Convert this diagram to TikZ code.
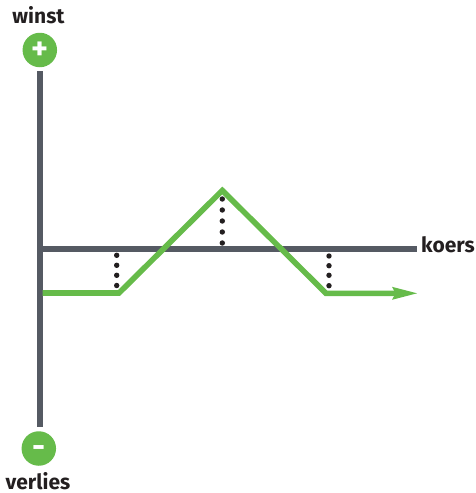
\documentclass[tikz,border=0pt]{standalone}
\usepackage{fontspec}
\setmainfont{Fira Sans}
\usetikzlibrary{arrows.meta}
\definecolor{axisgray}{HTML}{555A63}
\definecolor{payoff}{HTML}{66BB4A}
\definecolor{ink}{HTML}{231F20}
\tikzset{
  axisline/.style={draw=axisgray,line width=6pt},
  payoffline/.style={draw=payoff,line width=5.6pt,miter limit=10},
  badge/.style={circle,fill=payoff,minimum size=34.5pt,inner sep=0pt,text=white,font=\fontsize{32}{32}\selectfont\bfseries,text depth=0pt},
  lbl/.style={text=ink,font=\fontsize{21}{23}\selectfont\bfseries,inner sep=0pt},
  dotmark/.style={circle,fill=ink,minimum size=5.4pt,inner sep=0pt}
}
\begin{document}
\begin{tikzpicture}[x=1pt,y=-1pt]
\useasboundingbox (0,0) rectangle (476,493);
\node[lbl,anchor=base] (winst) at (38.5,23) {winst};
\node[lbl,anchor=base] (verlies) at (38,489.5) {verlies};
\node[lbl,anchor=base west] (koers) at (421,252) {koers};
\node[badge,text height=19pt] (plus) at (39.8,50) {+};
\node[badge,text height=17pt] (minus) at (38.8,448.5) {-};
\coordinate (axtop) at (39.8,71);
\coordinate (axbot) at (39.8,427);
\coordinate (axorigin) at (39.8,249.3);
\coordinate (axend) at (417,249.3);
\draw[axisline] (axtop) -- (axbot);
\draw[axisline] (axorigin) -- (axend);
\foreach \y in {255.3,265.3,275.3,285.5} \node[dotmark] at (116.7,\y) {};
\foreach \y in {199,210,221,232,243} \node[dotmark] at (222.3,\y) {};
\foreach \y in {256,265.7,275.3,285.7} \node[dotmark] at (329,\y) {};
\coordinate (p0) at (42.6,293);
\coordinate (p1) at (119,293);
\coordinate (p2) at (222.3,190.5);
\coordinate (p3) at (326,293.3);
\coordinate (p4) at (396,293.3);
\coordinate (p5) at (417,293.3);
\draw[payoffline] (p0) -- (p1) -- (p2) -- (p3) -- (p4);
\fill[payoff] (p5) -- (392,286.8) -- (395.5,293.3) -- (392,299.8) -- cycle;
\end{tikzpicture}
\end{document}
